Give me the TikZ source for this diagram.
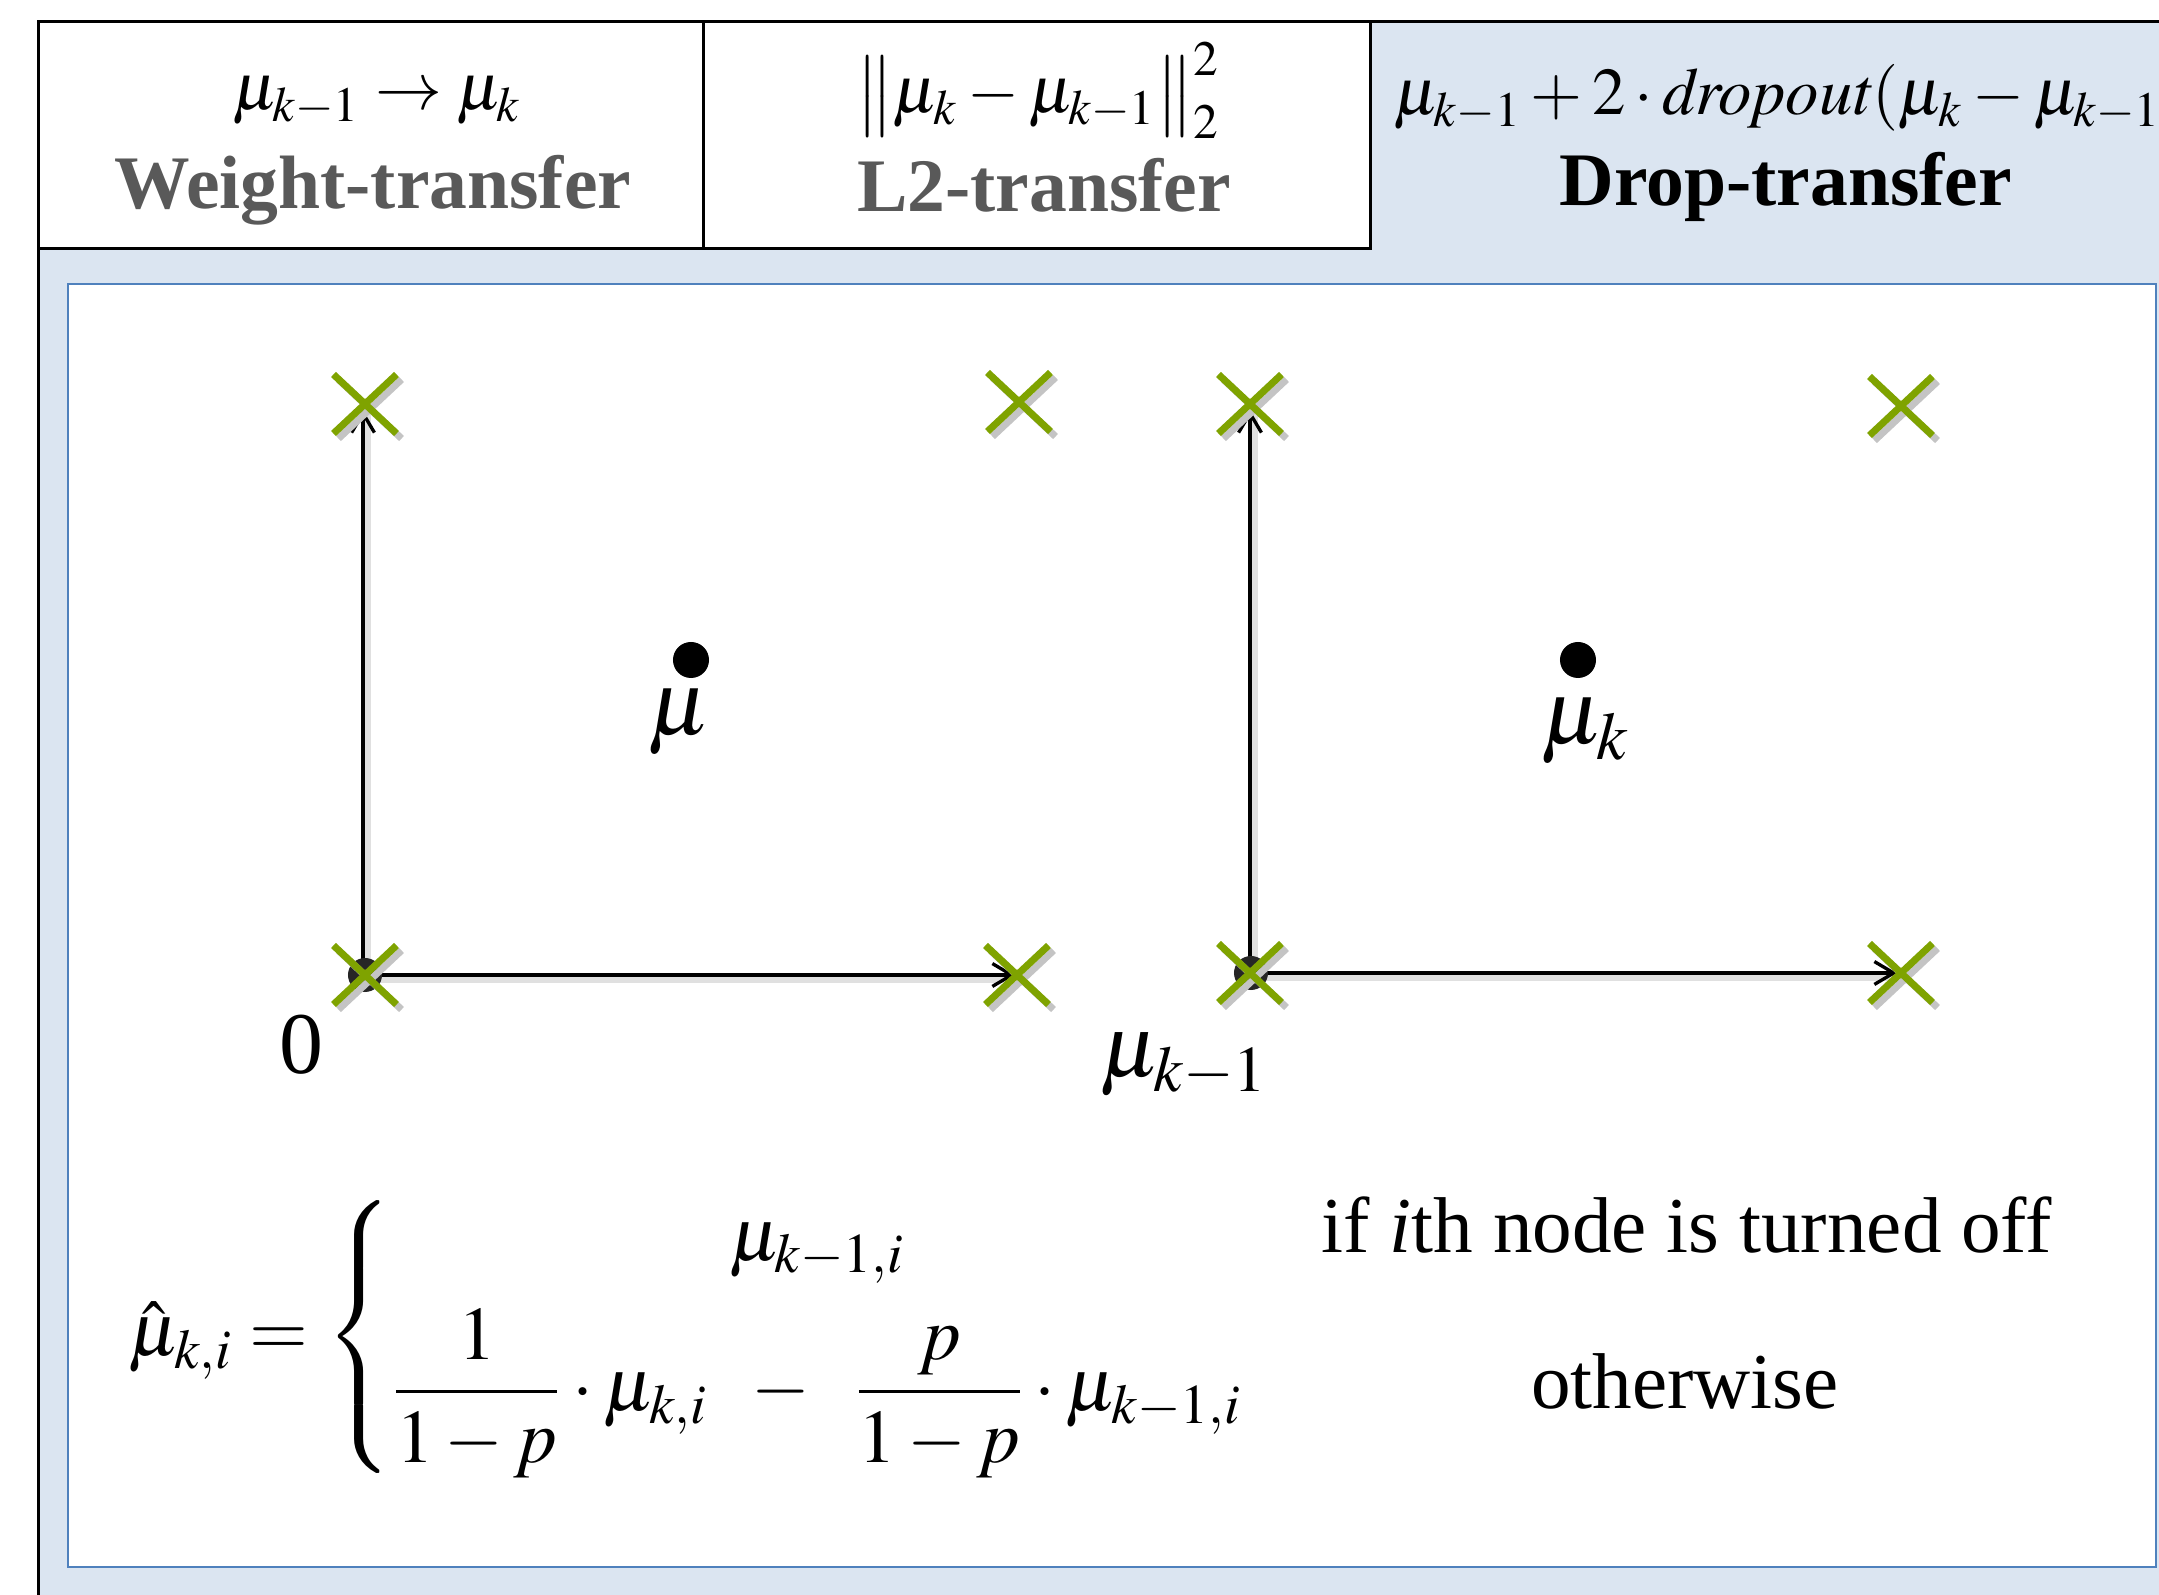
\documentclass[tikz,border=0pt]{standalone}
\usepackage{amsmath}
\usepackage{mathptmx}
\usepackage{fontspec}
\setmainfont{Liberation Serif}
\usetikzlibrary{arrows.meta,shapes.misc}
\definecolor{bgblue}{HTML}{DBE5F1}
\definecolor{bordblue}{HTML}{4F81BD}
\definecolor{xgreen}{HTML}{7FA300}
\definecolor{labgray}{HTML}{595959}
\definecolor{shadowgray}{HTML}{C4C4C4}
\tikzset{
  tabbox/.style={draw=black,line width=0.85pt,fill=white,minimum height=2.26cm,inner sep=0pt},
  tabmath/.style={font=\fontsize{19pt}{23pt}\selectfont,inner sep=0pt},
  tablabel/.style={font=\fontsize{21.5pt}{26pt}\selectfont\bfseries,inner sep=0pt},
  xmark/.style={shape=cross out,draw=xgreen,line width=2pt,minimum width=0.56cm,minimum height=0.52cm,inner sep=0pt},
  xshadow/.style={shape=cross out,draw=shadowgray,line width=2pt,minimum width=0.56cm,minimum height=0.52cm,inner sep=0pt},
  bigdot/.style={circle,fill=black,minimum size=0.36cm,inner sep=0pt},
  odot/.style={circle,fill=black!85,minimum size=0.34cm,inner sep=0pt},
  axis/.style={draw=black,line width=0.95pt,-{Straight Barb[length=5.5pt,width=6.5pt,line width=0.95pt]}},
  axshadow/.style={draw=black!12,line width=2.2pt},
  plotlabel/.style={font=\fontsize{26pt}{30pt}\selectfont,inner sep=0pt},
  condtext/.style={font=\fontsize{22.5pt}{27pt}\selectfont,inner sep=0pt},
}
\begin{document}
\begin{tikzpicture}[x=0.01cm,y=-0.01cm]
\useasboundingbox (0,0) rectangle (2159,1595);
% background
\fill[bgblue] (38.5,248) rectangle (2159,1595);
\fill[bgblue] (1370,22) rectangle (2159,248);
\draw[black,line width=0.85pt] (2159,22) -- (1370,22);
\draw[black,line width=0.85pt] (38.5,22) -- (38.5,1595);
% tabs
\node[tabbox,minimum width=6.65cm] (tab1) at (371,135) {};
\node[tabbox,minimum width=6.665cm] (tab2) at (1036.6,135) {};
% inner white panel
\node[draw=bordblue,fill=white,line width=0.6pt,minimum width=20.86cm,minimum height=12.83cm,inner sep=0pt] (panel) at (1112,925.5) {};
% tab texts
\node[tabmath,anchor=base] (m1) at (377,110) {$\mu_{k-1}\rightarrow\mu_{k}$};
\node[tablabel,anchor=base,text=labgray] (l1) at (373,209) {Weight-transfer};
\node[tabmath,anchor=base] (m2) at (1038,113) {$\big\|\mu_{k}-\mu_{k-1}\big\|_{2}^{2}$};
\node[tablabel,anchor=base,text=labgray] (l2) at (1044,212) {L2-transfer};
\begin{scope}
\clip (1371,23) rectangle (2159,247);
\node[tabmath,anchor=base west] (m3) at (1393,115) {$\mu_{k-1}+2\cdot \mathit{dropout}(\mu_{k}-\mu_{k-1}$};
\end{scope}
\node[tablabel,anchor=base] (l3) at (1786,206) {Drop-transfer};
% left plot
\coordinate (o1) at (363,975);
\coordinate (t1) at (363,410);
\coordinate (r1) at (1015,975);
\draw[axshadow] ([shift={(4,0)}]o1) -- ([shift={(4,0)}]t1);
\draw[axshadow] ([shift={(0,4)}]o1) -- ([shift={(0,4)}]r1);
\draw[axis] (o1) -- (t1);
\draw[axis] (o1) -- (r1);
\node[odot] (od1) at (365,975) {};
\node[xshadow] (s1a) at (370,409) {};
\node[xshadow] (s1b) at (1024,407) {};
\node[xshadow] (s1c) at (370,980) {};
\node[xshadow] (s1d) at (1022,980) {};
\node[xmark] (x1a) at (365,404) {};
\node[xmark] (x1b) at (1019,402) {};
\node[xmark] (x1c) at (365,975) {};
\node[xmark] (x1d) at (1017,975) {};
\node[bigdot] (d1) at (691,660) {};
\node[plotlabel,anchor=base] (mu1) at (679,735) {$\mu$};
\node[font=\fontsize{25pt}{29pt}\selectfont,inner sep=0pt,anchor=base] (zero) at (301,1074) {0};
% right plot
\coordinate (o2) at (1250,973);
\coordinate (t2) at (1250,410);
\coordinate (r2) at (1897,973);
\draw[axshadow] ([shift={(4,0)}]o2) -- ([shift={(4,0)}]t2);
\draw[axshadow] ([shift={(0,4)}]o2) -- ([shift={(0,4)}]r2);
\draw[axis] (o2) -- (t2);
\draw[axis] (o2) -- (r2);
\node[odot] (od2) at (1251,973) {};
\node[xshadow] (s2a) at (1255,409) {};
\node[xshadow] (s2b) at (1906,411) {};
\node[xshadow] (s2c) at (1255,978) {};
\node[xshadow] (s2d) at (1906,978) {};
\node[xmark] (x2a) at (1250,404) {};
\node[xmark] (x2b) at (1901,406) {};
\node[xmark] (x2c) at (1250,973) {};
\node[xmark] (x2d) at (1901,973) {};
\node[bigdot] (d2) at (1578,660) {};
\node[plotlabel,anchor=base] (mu2) at (1585,744) {$\mu_{k}$};
\node[font=\fontsize{25pt}{29pt}\selectfont,inner sep=0pt,anchor=base] (mu3) at (1184,1077) {$\mu_{k-1}$};
% formula
\node[anchor=west,inner sep=0pt,font=\fontsize{21.5pt}{26pt}\selectfont] (eq) at (128,1337)
  {$\displaystyle \hat{\mu}_{k,i} = \left\{\begin{array}{@{}c@{}} \mu_{k-1,i}\\[6pt] \dfrac{1}{1-p}\cdot\mu_{k,i}\;\;-\;\;\dfrac{p}{1-p}\cdot\mu_{k-1,i}\end{array}\right.$};
\node[condtext,anchor=base] (c1) at (1687,1253) {if \textit{i}th node is turned off};
\node[condtext,anchor=base] (c2) at (1685,1409) {otherwise};
\end{tikzpicture}
\end{document}
